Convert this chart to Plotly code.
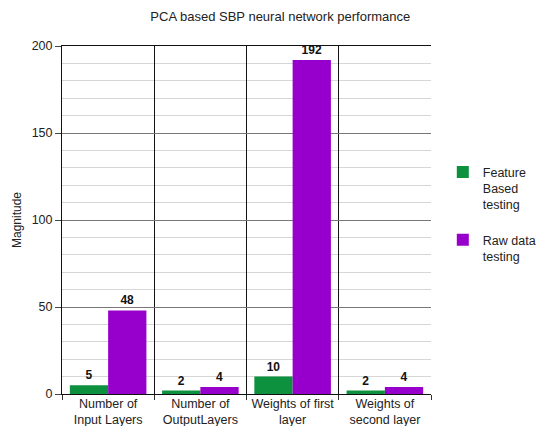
import plotly.graph_objects as go

categories = ["Number of<br>Input Layers", "Number of<br>OutputLayers",
              "Weights of first<br>layer", "Weights of<br>second layer"]
feature_based = [5, 2, 10, 2]
raw_data = [48, 4, 192, 4]
series_names = ["Feature<br>Based<br>testing", "Raw data<br>testing"]
y_ticks = [0, 50, 100, 150, 200]

FONT = "Liberation Sans, Arial, sans-serif"

fig = go.Figure()
for i, (name, vals, color) in enumerate([(series_names[0], feature_based, "#0e913e"),
                                         (series_names[1], raw_data, "#9700cc")]):
    fig.add_trace(go.Bar(
        x=categories, y=vals, name=name, legendgroup=f"g{i}",
        marker=dict(color=color, line=dict(width=0)),
        text=[str(v) for v in vals], textposition="outside",
        textfont=dict(family=FONT, size=12, color="#111111", weight="bold"),
        cliponaxis=False,
    ))

fig.update_layout(
    width=536, height=426,
    margin=dict(l=62, r=105, t=46, b=32, autoexpand=False),
    paper_bgcolor="white", plot_bgcolor="white",
    barmode="group", bargap=0.17, bargroupgap=0,
    font=dict(family=FONT, size=12, color="#222222"),
    title=dict(text="PCA based SBP neural network performance",
               x=0.523, xanchor="center", y=0.962, yanchor="middle",
               font=dict(family=FONT, size=13, color="#222222")),
    legend=dict(x=1.032, xanchor="left", y=0.68, yanchor="top",
                valign="top", tracegroupgap=16,
                font=dict(family=FONT, size=12.5, color="#222222"),
                bgcolor="rgba(0,0,0,0)"),
    showlegend=True,
)

fig.update_xaxes(
    tickson="boundaries", ticks="outside", ticklen=5, tickcolor="#333333",
    tickangle=0, ticklabelstandoff=-2,
    showgrid=True, gridcolor="#111111", gridwidth=1,
    showline=True, linecolor="#111111", mirror=True,
    tickfont=dict(family=FONT, size=12.5, color="#222222"),
    zeroline=False,
)
fig.update_yaxes(
    range=[0, 200], tickvals=y_ticks, ticks="outside", ticklen=6,
    tickcolor="#444444",
    showgrid=True, gridcolor="#777777", gridwidth=1.2,
    minor=dict(dtick=10, showgrid=True, gridcolor="#d6d6d6", gridwidth=1),
    showline=True, linecolor="#111111",
    zeroline=False,
    tickfont=dict(family=FONT, size=12.5, color="#222222"),
    title=dict(text="Magnitude", standoff=7,
               font=dict(family=FONT, size=12, color="#222222")),
)

fig.write_html("out.html")
